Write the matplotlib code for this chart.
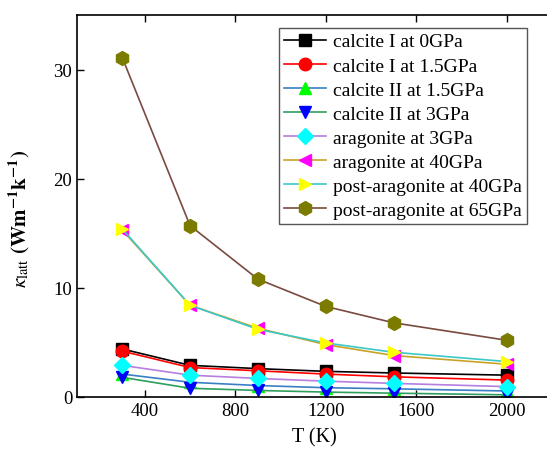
import matplotlib
matplotlib.use('Agg')
import matplotlib.pyplot as plt

plt.rcParams['font.family'] = ['Liberation Serif', 'DejaVu Serif']
plt.rcParams['mathtext.fontset'] = 'stix'

T = [300, 600, 900, 1200, 1500, 2000]

labels = ['calcite I at 0GPa', 'calcite I at 1.5GPa', 'calcite II at 1.5GPa',
          'calcite II at 3GPa', 'aragonite at 3GPa', 'aragonite at 40GPa',
          'post-aragonite at 40GPa', 'post-aragonite at 65GPa']

calcite1_0 = [4.4, 2.9, 2.6, 2.35, 2.2, 2.0]
calcite1_15 = [4.2, 2.7, 2.4, 2.1, 1.85, 1.55]
calcite2_15 = [2.1, 1.35, 1.05, 0.85, 0.75, 0.55]
calcite2_3 = [1.8, 0.8, 0.6, 0.45, 0.35, 0.2]
aragonite_3 = [2.9, 2.0, 1.7, 1.45, 1.25, 0.95]
aragonite_40 = [15.3, 8.4, 6.3, 4.8, 3.8, 3.0]
postara_40 = [15.4, 8.4, 6.2, 4.95, 4.1, 3.25]
postara_65 = [31.1, 15.7, 10.8, 8.3, 6.8, 5.2]

series = [calcite1_0, calcite1_15, calcite2_15, calcite2_3,
          aragonite_3, aragonite_40, postara_40, postara_65]
line_colors = ['black', 'red', '#3a7fc4', '#2e9e5e', '#b57ee0', '#c9a227', '#3cc8c8', '#7a4a3e']
marker_colors = ['black', 'red', '#00ff00', '#0000ff', '#00ffff', '#ff00ff', '#ffff00', '#7b7b00']
markers = ['s', 'o', '^', 'v', 'D', '<', '>', 'h']
msizes = [8, 9, 9, 9, 8, 9, 9, 10]

fig = plt.figure(figsize=(5.47, 4.56), dpi=100)
ax = fig.add_axes([0.1408, 0.1272, 0.868, 0.8377])

for y, lab, lc, mc, mk, ms in zip(series, labels, line_colors, marker_colors, markers, msizes):
    ax.plot(T, y, color=lc, lw=1.2, marker=mk, markersize=ms,
            markerfacecolor=mc, markeredgecolor=mc, label=lab)

ax.set_xlim(100, 2200)
ax.set_ylim(0, 35)
ax.set_xticks([400, 800, 1200, 1600, 2000])
ax.set_yticks([0, 10, 20, 30])
ax.tick_params(direction='in', top=True, right=False, labelsize=13.5, length=5, width=1)
for s in ax.spines.values():
    s.set_linewidth(1.2)

ax.set_xlabel('T (K)', fontsize=14.5, labelpad=6)
ax.set_ylabel(r'$\kappa_{\mathrm{latt}}$ $\mathbf{(Wm^{-1}k^{-1})}$', fontsize=15)
ax.yaxis.set_label_coords(-0.095, 0.47)

leg = ax.legend(loc='upper right', bbox_to_anchor=(527 / 547, 1 - 29 / 456),
                bbox_transform=fig.transFigure, borderaxespad=0, fontsize=14,
                fancybox=False, edgecolor='#555555', framealpha=1,
                handlelength=2.2, labelspacing=0.33, borderpad=0.25, handletextpad=0.35)
leg.get_frame().set_linewidth(1.0)

fig.savefig('out.png', dpi=100)
